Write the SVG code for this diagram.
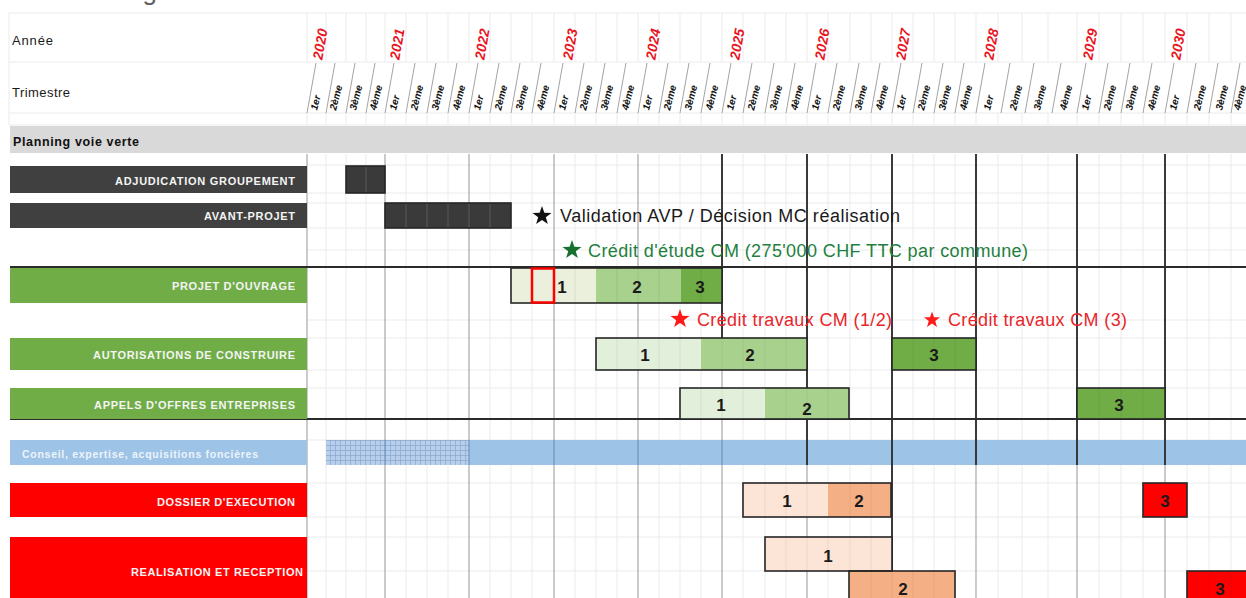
<svg xmlns="http://www.w3.org/2000/svg" width="1246" height="598" viewBox="0 0 1246 598">
<defs>
<style>
text{font-family:"Liberation Sans",Arial,Helvetica,sans-serif}
.hdr{font-size:13px;fill:#1a1a1a}
.yr{font-size:14px;font-weight:bold;font-style:italic;fill:#e8141e;text-anchor:middle}
.qt{font-size:10px;font-weight:bold;font-style:italic;fill:#111}
.lbl{font-size:11px;font-weight:bold;fill:#f4f4f4;text-anchor:end}
.num{font-size:17px;font-weight:bold;fill:#1a1a1a;text-anchor:middle}
.note{font-size:18px}
.ql{stroke:#ebebeb;stroke-width:1;fill:none}
.yl{stroke:#a8a8a8;stroke-width:1.2;fill:none}
.dk{stroke:#2b2b2b;stroke-width:1.8;fill:none}
.hl{stroke:#ebebeb;stroke-width:1;fill:none}
.sl{stroke:#8c8c8c;stroke-width:0.8;fill:none}
.bar{fill:none;stroke:#262626;stroke-width:1.6}
.grey{fill:#404040}
.green{fill:#70ad47}
.red{fill:#ff0000}
</style>
<path id="star" d="M0,-10 L2.35,-3.24 L9.51,-3.09 L3.8,1.24 L5.88,8.09 L0,4 L-5.88,8.09 L-3.8,1.24 L-9.51,-3.09 L-2.35,-3.24 Z"/>
<pattern id="hatch" width="5" height="5" patternUnits="userSpaceOnUse"><rect width="5" height="5" fill="#b7cfea"/><path d="M0 0.5H5M0.5 0V5" stroke="#8eabd0" stroke-width="0.8"/></pattern>
</defs>
<rect width="1246" height="598" fill="#ffffff"/>
<text x="157" y="-0.5" font-size="26" fill="#606060" text-anchor="end">Planning</text>

<g id="header">
<path class="hl" stroke="#dedede" d="M9 13H1246M9 62H1246M9 113H1246M9 125H1246M9 13V125"/>
<path class="ql" stroke="#dcdcdc" d="M307 13V62M326 13V62M346 13V62M366 13V62M385 13V62M406 13V62M427 13V62M448 13V62M469 13V62M490 13V62M511 13V62M532 13V62M554 13V62M575 13V62M596 13V62M617 13V62M638 13V62M659 13V62M680 13V62M701 13V62M722 13V62M743 13V62M765 13V62M786 13V62M807 13V62M828 13V62M850 13V62M871 13V62M892 13V62M913 13V62M934 13V62M955 13V62M976 13V62M998 13V62M1022 13V62M1048 13V62M1077 13V62M1099 13V62M1121 13V62M1143 13V62M1165 13V62M1187 13V62M1209 13V62M1231 13V62"/>
<path class="ql" stroke="#dcdcdc" d="M307 113V125M326 113V125M346 113V125M366 113V125M385 113V125M406 113V125M427 113V125M448 113V125M469 113V125M490 113V125M511 113V125M532 113V125M554 113V125M575 113V125M596 113V125M617 113V125M638 113V125M659 113V125M680 113V125M701 113V125M722 113V125M743 113V125M765 113V125M786 113V125M807 113V125M828 113V125M850 113V125M871 113V125M892 113V125M913 113V125M934 113V125M955 113V125M976 113V125M998 113V125M1022 113V125M1048 113V125M1077 113V125M1099 113V125M1121 113V125M1143 113V125M1165 113V125M1187 113V125M1209 113V125M1231 113V125"/>
<path class="sl" d="M307 113L316 63M326 113L335 63M346 113L355 63M366 113L375 63M385 113L394 63M406 113L415 63M427 113L436 63M448 113L457 63M469 113L478 63M490 113L499 63M511 113L520 63M532 113L541 63M554 113L563 63M575 113L584 63M596 113L605 63M617 113L626 63M638 113L647 63M659 113L668 63M680 113L689 63M701 113L710 63M722 113L731 63M743 113L752 63M765 113L774 63M786 113L795 63M807 113L816 63M828 113L837 63M850 113L859 63M871 113L880 63M892 113L901 63M913 113L922 63M934 113L943 63M955 113L964 63M976 113L985 63M1001 113L1010 63M1025 113L1034 63M1052 113L1061 63M1077 113L1086 63M1099 113L1108 63M1121 113L1130 63M1143 113L1152 63M1165 113L1174 63M1187 113L1196 63M1209 113L1218 63M1231 113L1240 63"/>
<text class="hdr" x="12" y="45" textLength="41">Année</text>
<text class="hdr" x="12" y="97" textLength="58">Trimestre</text>
<g id="years">
<text class="yr" transform="translate(320,44) rotate(-80)" y="5">2020</text>
<text class="yr" transform="translate(397,44) rotate(-80)" y="5">2021</text>
<text class="yr" transform="translate(482,44) rotate(-80)" y="5">2022</text>
<text class="yr" transform="translate(570,44) rotate(-80)" y="5">2023</text>
<text class="yr" transform="translate(653,44) rotate(-80)" y="5">2024</text>
<text class="yr" transform="translate(737,44) rotate(-80)" y="5">2025</text>
<text class="yr" transform="translate(822,44) rotate(-80)" y="5">2026</text>
<text class="yr" transform="translate(903,44) rotate(-80)" y="5">2027</text>
<text class="yr" transform="translate(991,44) rotate(-80)" y="5">2028</text>
<text class="yr" transform="translate(1090,44) rotate(-80)" y="5">2029</text>
<text class="yr" transform="translate(1178,44) rotate(-80)" y="5">2030</text>
</g>
<g id="quarters">
<text class="qt" transform="translate(314,110) rotate(-75)" y="3">1er</text>
<text class="qt" transform="translate(333,110) rotate(-75)" y="3">2ème</text>
<text class="qt" transform="translate(353,110) rotate(-75)" y="3">3ème</text>
<text class="qt" transform="translate(373,110) rotate(-75)" y="3">4ème</text>
<text class="qt" transform="translate(393,110) rotate(-75)" y="3">1er</text>
<text class="qt" transform="translate(414,110) rotate(-75)" y="3">2ème</text>
<text class="qt" transform="translate(435,110) rotate(-75)" y="3">3ème</text>
<text class="qt" transform="translate(456,110) rotate(-75)" y="3">4ème</text>
<text class="qt" transform="translate(477,110) rotate(-75)" y="3">1er</text>
<text class="qt" transform="translate(498,110) rotate(-75)" y="3">2ème</text>
<text class="qt" transform="translate(519,110) rotate(-75)" y="3">3ème</text>
<text class="qt" transform="translate(540,110) rotate(-75)" y="3">4ème</text>
<text class="qt" transform="translate(562,110) rotate(-75)" y="3">1er</text>
<text class="qt" transform="translate(583,110) rotate(-75)" y="3">2ème</text>
<text class="qt" transform="translate(604,110) rotate(-75)" y="3">3ème</text>
<text class="qt" transform="translate(625,110) rotate(-75)" y="3">4ème</text>
<text class="qt" transform="translate(646,110) rotate(-75)" y="3">1er</text>
<text class="qt" transform="translate(667,110) rotate(-75)" y="3">2ème</text>
<text class="qt" transform="translate(688,110) rotate(-75)" y="3">3ème</text>
<text class="qt" transform="translate(709,110) rotate(-75)" y="3">4ème</text>
<text class="qt" transform="translate(730,110) rotate(-75)" y="3">1er</text>
<text class="qt" transform="translate(751,110) rotate(-75)" y="3">2ème</text>
<text class="qt" transform="translate(773,110) rotate(-75)" y="3">3ème</text>
<text class="qt" transform="translate(794,110) rotate(-75)" y="3">4ème</text>
<text class="qt" transform="translate(815,110) rotate(-75)" y="3">1er</text>
<text class="qt" transform="translate(836,110) rotate(-75)" y="3">2ème</text>
<text class="qt" transform="translate(858,110) rotate(-75)" y="3">3ème</text>
<text class="qt" transform="translate(879,110) rotate(-75)" y="3">4ème</text>
<text class="qt" transform="translate(900,110) rotate(-75)" y="3">1er</text>
<text class="qt" transform="translate(921,110) rotate(-75)" y="3">2ème</text>
<text class="qt" transform="translate(942,110) rotate(-75)" y="3">3ème</text>
<text class="qt" transform="translate(963,110) rotate(-75)" y="3">4ème</text>
<text class="qt" transform="translate(987,110) rotate(-75)" y="3">1er</text>
<text class="qt" transform="translate(1013,110) rotate(-75)" y="3">2ème</text>
<text class="qt" transform="translate(1037,110) rotate(-75)" y="3">3ème</text>
<text class="qt" transform="translate(1063,110) rotate(-75)" y="3">4ème</text>
<text class="qt" transform="translate(1085,110) rotate(-75)" y="3">1er</text>
<text class="qt" transform="translate(1107,110) rotate(-75)" y="3">2ème</text>
<text class="qt" transform="translate(1129,110) rotate(-75)" y="3">3ème</text>
<text class="qt" transform="translate(1151,110) rotate(-75)" y="3">4ème</text>
<text class="qt" transform="translate(1173,110) rotate(-75)" y="3">1er</text>
<text class="qt" transform="translate(1197,110) rotate(-75)" y="3">2ème</text>
<text class="qt" transform="translate(1219,110) rotate(-75)" y="3">3ème</text>
<text class="qt" transform="translate(1237,110) rotate(-75)" y="3">4ème</text>
</g>
</g>

<g id="section-band">
<rect x="10" y="126" width="1236" height="27" fill="#d9d9d9"/>
<text x="13" y="146" font-size="12.5" font-weight="bold" fill="#111" textLength="126">Planning voie verte</text>
</g>

<g id="grid">
<path class="hl" d="M307 165H1246M307 193H1246M307 203H1246M307 228H1246M307 250H1246M307 320H1246M307 338H1246M307 370H1246M307 388H1246M307 440H1246M307 483H1246M307 517H1246M307 537H1246M307 571H1246"/>
<path class="ql" d="M326 154V598M346 154V598M366 154V598M406 154V598M427 154V598M448 154V598M490 154V598M511 154V598M532 154V598M575 154V598M596 154V598M617 154V598M659 154V598M680 154V598M701 154V598M743 154V598M765 154V598M786 154V598M828 154V598M850 154V598M871 154V598M913 154V598M934 154V598M955 154V598M998 154V598M1022 154V598M1048 154V598M1099 154V598M1121 154V598M1143 154V598M1187 154V598M1209 154V598M1231 154V598"/>
<path class="yl" d="M307 154V598M385 154V598M469 154V598M554 154V598M638 154V598M722 154V598M807 154V598M892 154V598M976 154V598M1077 154V598M1165 154V598"/>
</g>

<g id="conseil">
<rect x="10" y="440" width="297" height="25" fill="#9dc3e6"/>
<rect x="326" y="440" width="920" height="25" fill="#9dc3e6"/>
<rect x="326" y="440" width="143" height="25" fill="url(#hatch)"/>
<path stroke="#7193bd" stroke-width="1.2" d="M385 440V465M469 440V465M554 440V465M638 440V465M722 440V465"/>
<text x="22" y="458" font-size="10.5" font-weight="bold" fill="#eef4fb" textLength="236">Conseil, expertise, acquisitions foncières</text>
</g>

<g id="dark-lines">
<path class="dk" d="M10 267H1246M10 419H1246M722 154V338M807 154V465M892 154V571M976 154V465M1077 154V465M1165 154V465"/>
</g>

<g id="adjudication">
<rect class="grey" x="10" y="166" width="297" height="27"/>
<text class="lbl" x="295" y="185" textLength="180">ADJUDICATION GROUPEMENT</text>
<rect x="346" y="166" width="39" height="27" fill="#3a3a3a"/>
<path stroke="#5a5a5a" stroke-width="1" d="M366 166V193"/>
<rect class="bar" x="346" y="166" width="39" height="27" stroke="#555"/>
</g>

<g id="avant-projet">
<rect class="grey" x="10" y="203" width="297" height="25"/>
<text class="lbl" x="295" y="220" textLength="91">AVANT-PROJET</text>
<rect x="385" y="203" width="126" height="25" fill="#3a3a3a"/>
<path stroke="#5a5a5a" stroke-width="1" d="M406 203V228M427 203V228M448 203V228M469 203V228M490 203V228"/>
<rect class="bar" x="385" y="203" width="126" height="25" stroke="#555"/>
</g>

<g id="projet-ouvrage">
<rect class="green" x="10" y="268" width="297" height="35"/>
<text class="lbl" x="295" y="290" textLength="123">PROJET D'OUVRAGE</text>
<rect x="511" y="268" width="85" height="35" fill="#ebf0dc"/>
<rect x="596" y="268" width="85" height="35" fill="#a9d18e"/>
<rect x="681" y="268" width="41" height="35" fill="#70ad47"/>
<path stroke="#000" stroke-opacity="0.07" d="M554 268V303M575 268V303M617 268V303M638 268V303M659 268V303M701 268V303"/>
<rect class="bar" x="511" y="268" width="211" height="35"/>
<rect x="532" y="268.5" width="22" height="34" fill="none" stroke="#ff0000" stroke-width="2.5"/>
<text class="num" x="562" y="293">1</text>
<text class="num" x="637" y="293">2</text>
<text class="num" x="700" y="293">3</text>
</g>

<g id="autorisations">
<rect class="green" x="10" y="338" width="297" height="32"/>
<text class="lbl" x="295" y="359" textLength="202">AUTORISATIONS DE CONSTRUIRE</text>
<rect x="596" y="338" width="105" height="32" fill="#e2efda"/>
<rect x="701" y="338" width="106" height="32" fill="#a9d18e"/>
<rect x="892" y="338" width="84" height="32" fill="#70ad47"/>
<path stroke="#000" stroke-opacity="0.06" d="M617 338V370M638 338V370M659 338V370M680 338V370M722 338V370M743 338V370M765 338V370M786 338V370M913 338V370M934 338V370M955 338V370"/>
<rect class="bar" x="596" y="338" width="211" height="32"/>
<rect class="bar" x="892" y="338" width="84" height="32"/>
<text class="num" x="645" y="361">1</text>
<text class="num" x="750" y="361">2</text>
<text class="num" x="934" y="361">3</text>
</g>

<g id="appels-offres">
<rect class="green" x="10" y="388" width="297" height="31"/>
<text class="lbl" x="295" y="409" textLength="201">APPELS D'OFFRES ENTREPRISES</text>
<rect x="680" y="388" width="85" height="31" fill="#e2efda"/>
<rect x="765" y="388" width="84" height="31" fill="#a9d18e"/>
<rect x="1077" y="388" width="88" height="31" fill="#70ad47"/>
<path stroke="#000" stroke-opacity="0.06" d="M701 388V419M722 388V419M743 388V419M786 388V419M807 388V419M828 388V419M1099 388V419M1121 388V419M1143 388V419"/>
<rect class="bar" x="680" y="388" width="169" height="31"/>
<rect class="bar" x="1077" y="388" width="88" height="31"/>
<text class="num" x="721" y="411">1</text>
<text class="num" x="807" y="415">2</text>
<text class="num" x="1119" y="411">3</text>
</g>

<g id="dossier-execution">
<rect class="red" x="10" y="483" width="297" height="34"/>
<text class="lbl" x="295" y="506" textLength="138">DOSSIER D'EXECUTION</text>
<rect x="743" y="483" width="85" height="34" fill="#fce4d6"/>
<rect x="828" y="483" width="63" height="34" fill="#f4b084"/>
<rect class="red" x="1143" y="483" width="44" height="34"/>
<path stroke="#000" stroke-opacity="0.06" d="M765 483V517M786 483V517M807 483V517M850 483V517M871 483V517"/>
<rect class="bar" x="743" y="483" width="148" height="34"/>
<rect class="bar" x="1143" y="483" width="44" height="34"/>
<text class="num" x="787" y="507">1</text>
<text class="num" x="859" y="507">2</text>
<text class="num" x="1165" y="507">3</text>
</g>

<g id="realisation-reception">
<rect class="red" x="10" y="537" width="297" height="61"/>
<text class="lbl" x="303" y="576" textLength="172">REALISATION ET RECEPTION</text>
<rect x="765" y="537" width="127" height="34" fill="#fce4d6"/>
<rect x="849" y="571" width="106" height="40" fill="#f4b084"/>
<rect class="red" x="1187" y="571" width="70" height="40"/>
<path stroke="#000" stroke-opacity="0.06" d="M786 537V571M807 537V571M828 537V571M850 537V571M871 537V571M871 571V598M892 571V598M913 571V598M934 571V598M1209 571V598M1231 571V598"/>
<rect class="bar" x="765" y="537" width="127" height="34"/>
<rect class="bar" x="849" y="571" width="106" height="40"/>
<rect class="bar" x="1187" y="571" width="70" height="40"/>
<text class="num" x="828" y="562">1</text>
<text class="num" x="903" y="595">2</text>
<text class="num" x="1220" y="595">3</text>
</g>

<g id="milestones">
<g id="m-validation">
<use href="#star" x="542" y="216" fill="#111"/>
<text class="note" x="560" y="222" fill="#1a1a1a" textLength="340">Validation AVP / Décision MC réalisation</text>
</g>
<g id="m-credit-etude">
<use href="#star" x="572" y="250" fill="#17702f"/>
<text class="note" x="588" y="257" fill="#1e7f3e" textLength="440">Crédit d'étude CM (275'000 CHF TTC par commune)</text>
</g>
<g id="m-credit-travaux-12">
<use href="#star" x="680" y="319" fill="#ff1a1a"/>
<text class="note" x="697" y="326" fill="#e8262b" textLength="195">Crédit travaux CM (1/2)</text>
</g>
<g id="m-credit-travaux-3">
<use href="#star" x="932" y="320" fill="#ff1a1a" transform="translate(932,320) scale(0.85) translate(-932,-320)"/>
<text class="note" x="948" y="326" fill="#e8262b" textLength="179">Crédit travaux CM (3)</text>
</g>
</g>
</svg>
